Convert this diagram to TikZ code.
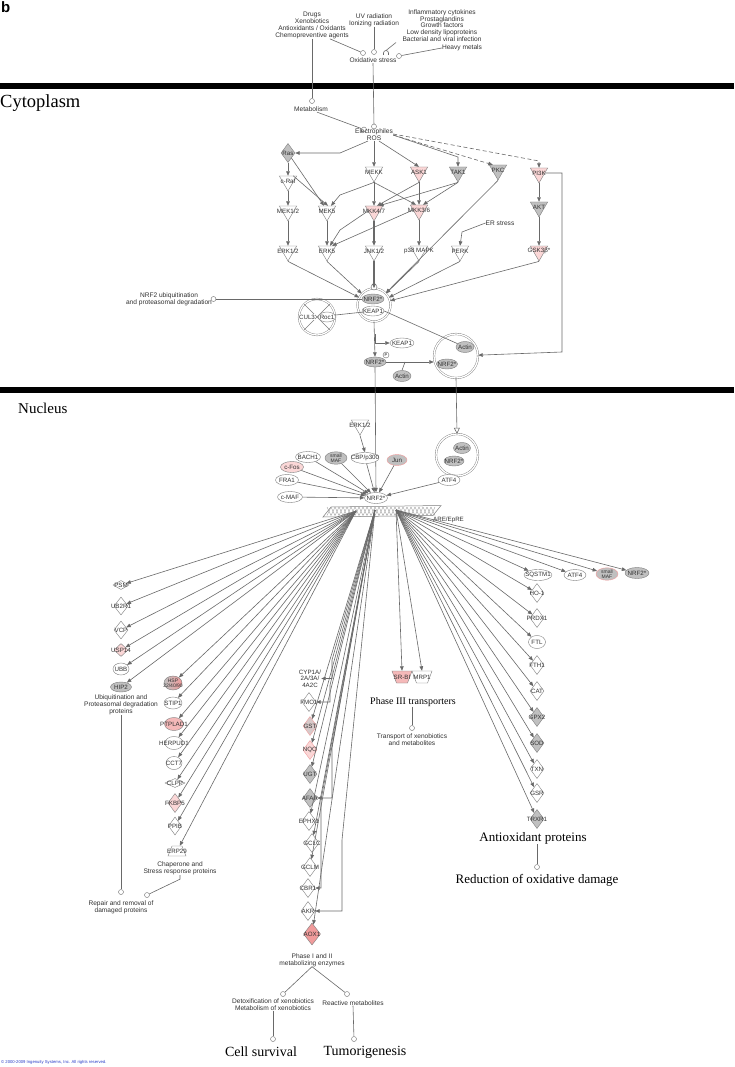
\documentclass[tikz,border=0pt]{standalone}
\usepackage{fontspec}
\setmainfont{Liberation Serif}
\newfontfamily\arial{Liberation Sans}
\usetikzlibrary{shapes.geometric,arrows.meta,calc}
\definecolor{lnc}{RGB}{105,105,105}
\definecolor{olc}{RGB}{125,125,125}
\definecolor{grc}{RGB}{192,192,192}
\definecolor{pkc}{RGB}{251,215,215}
\definecolor{pkb}{RGB}{245,185,185}
\definecolor{pkd}{RGB}{240,155,155}
\definecolor{txc}{RGB}{50,50,50}
\definecolor{cpy}{RGB}{40,60,200}
\begin{document}
\begin{tikzpicture}[x=1pt,y=-1pt,
  lbl/.style={font=\arial\fontsize{6.2}{6.6}\selectfont,text=txc,inner sep=0,align=center},
  lbs/.style={font=\arial\fontsize{5}{5.2}\selectfont,text=txc,inner sep=0,align=center},
  dl/.style={font=\arial\fontsize{6.6}{6.8}\selectfont,text=txc,inner sep=0,align=center},
  L/.style={label={[lbl]center:#1}},
  L2/.style={label={[lbs]center:#1}},
  E/.style={ellipse,draw=olc,fill=white,minimum width=#1,minimum height=11pt,inner sep=0},
  E/.default=20pt,
  K/.style={regular polygon,regular polygon sides=3,shape border rotate=180,draw=olc,fill=white,minimum size=20pt,inner sep=0},
  D/.style={diamond,draw=olc,fill=white,minimum width=14pt,minimum height=19pt,inner sep=0},
  TR/.style={trapezium,trapezium stretches=true,trapezium left angle=68,trapezium right angle=68,draw=olc,fill=white,minimum width=18pt,minimum height=10pt,inner sep=1pt},
  OC/.style={circle,draw=lnc,fill=white,minimum size=5pt,inner sep=0},
  CX/.style={circle,draw=olc,double=white,double distance=1.3pt,fill=white,inner sep=0,minimum size=#1},
  wire/.style={draw=lnc,line width=0.6pt},
  arr/.style={wire,-{Triangle[length=4.5pt,width=3.6pt]}},
  dsh/.style={arr,dash pattern=on 4pt off 2.5pt},
]
\useasboundingbox (0,0) rectangle (734,1067);
\fill[white] (0,0) rectangle (734,1067);
\node[font=\arial\bfseries\fontsize{15}{15}\selectfont,anchor=north west,inner sep=0] (blab) at (1,1) {b};
\fill[black] (0,83) rectangle (734,89);
\fill[black] (0,387) rectangle (734,393);
\node[anchor=west,inner sep=0,font=\fontsize{18.5}{18.5}\selectfont] (cyto) at (0,103) {Cytoplasm};
\node[anchor=west,inner sep=0,font=\fontsize{15}{15}\selectfont] (nucl) at (18,408) {Nucleus};

% ---------- sources ----------
\node[dl] (src1) at (312,25.5) {Drugs\\Xenobiotics\\Antioxidants / Oxidants\\Chemopreventive agents};
\node[dl] (src2) at (374,20) {UV radiation\\Ionizing radiation};
\node[dl] (src3) at (442,25.5) {Inflammatory cytokines\\Prostaglandins\\Growth factors\\Low density lipoproteins\\Bacterial and viral infection};
\node[dl] (src4) at (462,48) {Heavy metals};
\node[OC] (o1) at (363,53) {};
\node[OC] (o2) at (374,52) {};
\coordinate (o3) at (386,50.5);
\draw[wire] (383.5,55) -- (383.5,53) arc[start angle=180,end angle=0,radius=2.5pt] -- (388.5,55);
\node[OC] (o4) at (399,56) {};
\node[dl] (oxs) at (373,60.5) {Oxidative stress};
\draw[wire] ([xshift=-19pt]src1.south east) -- (o1);
\draw[wire] (src2.south) -- (o2);
\coordinate (s3) at (396,42.5);
\draw[wire] (s3) -- (o3);
\draw[wire] (src4.west) -- (o4);

\node[OC] (metc) at (312,101) {};
\node[dl] (met) at (311,109.5) {Metabolism};
\draw[wire] (src1.south) -- (metc);
\node[OC] (r1) at (364,129.5) {};
\node[OC] (r2) at (374,126.5) {};
\node[dl] (ros) at (374,135) {Electrophiles\\ROS};
\draw[wire] (oxs.south) -- (r2);
\draw[wire] ([xshift=6pt]met.south) -- (r1);

% ---------- cytoplasm kinases ----------
\node[D,fill=grc,L=Ras] (ras) at (288,153) {};
\node[K,L=c-Raf] (craf) at (288,181) {};
\node[K,L=MEKK] (mekk) at (374,172) {};
\node[K,fill=pkc,L=ASK1] (ask1) at (419,172) {};
\node[K,fill=grc,L=TAK1] (tak1) at (458,172) {};
\node[K,fill=grc,L=PKC] (pkcn) at (498,170) {};
\node[K,fill=pkc,L=PI3K] (pi3k) at (539,173) {};
\node[K,L=MEK1/2] (mek12) at (288,211) {};
\node[K,L=MEK5] (mek5) at (327,211) {};
\node[K,fill=pkc,L=MKK4/7] (mkk47) at (374,211) {};
\node[K,fill=pkc,L=MKK3/6] (mkk36) at (419,210) {};
\node[K,fill=grc,L=AKT] (akt) at (539,207) {};
\node[K,L=ERK1/2] (erk12) at (288,251) {};
\node[K,L=ERK5] (erk5) at (327,251) {};
\node[K,L=JNK1/2] (jnk) at (374,251) {};
\node[K,L=p38 MAPK] (p38) at (419,251) {};
\node[K,L=PERK] (perk) at (460,251) {};
\node[K,fill=pkc,L=GSK3β*] (gsk) at (539,251) {};
\node[dl] (ers) at (500,223) {ER stress};

\draw[arr] ([xshift=-6pt]ros.south) -- (340,153) -- (ras.east);
\draw[arr] (ros.south) -- (mekk.north);
\draw[arr] ([xshift=5pt]ros.south) -- (ask1.north);
\draw[arr] (ros.east) -- (458,157) -- (tak1.north);
\draw[dsh] (ros.east) -- (pkcn.north west);
\draw[dsh] ([yshift=1pt]ros.east) -- (539,161) -- (pi3k.north);

\draw[arr] (ras.south) -- (craf.north);
\draw[arr] (ras) -- ([xshift=-3pt]mek5.north);
\draw[arr] (craf.north east) -- ([xshift=1pt]mek5.north);
\draw[arr] (craf.south) -- (mek12.north);
\draw[arr] (mekk.south) -- (340,195) -- ([xshift=4pt]mek5.north);
\draw[arr] (mekk.south) -- (mkk47.north);
\draw[arr] (mekk.south) -- ([xshift=-3pt]mkk36.north);
\draw[arr] (ask1.south) -- ([xshift=3pt]mkk47.north);
\draw[arr] (ask1.south) -- (mkk36.north);
\draw[arr] (tak1.south) -- ([xshift=5pt]mkk47.north);
\draw[arr] (tak1.south) -- ([xshift=4pt]mkk36.north);
\draw[arr] (pi3k.south) -- (akt.north);
\draw[arr] (akt.south) -- (gsk.north);
\draw[arr] (mek12.south) -- (erk12.north);
\draw[arr] (mek5.south) -- (erk5.north);
\draw[arr,line width=1.1pt] (mkk47.south) -- (jnk.north);
\draw[arr] (mkk36.south) -- (p38.north);
\draw[arr] (mkk47.west) -- (340,230) -- ([xshift=3pt]erk5.north);
\draw[arr] (mkk36.west) -- (erk5.north east);
\draw[arr] (ers.west) -- (462,232) -- (perk.north);

% ---------- NRF2 / KEAP1 ----------
\node[CX=33pt] (nk) at (374,305) {};
\node[E=22pt,fill=grc,minimum height=10pt,L=NRF2*] (nrf2a) at (373,299) {};
\node[E=22pt,minimum height=10pt,L=KEAP1] (keap1a) at (373,311) {};
\node[OC,minimum size=6pt] (pa) at (374,287) {};
\foreach \s in {erk12,erk5,p38,perk,gsk} \draw[arr] (\s.south) -- (nk);
\draw[arr,line width=1.1pt] (jnk.south) -- (nk.north);
\draw[arr] (pkcn.south) -- (nk);

\node[CX=36pt] (cul) at (317,317) {};
\draw[olc,line width=0.5pt] (cul.north west) -- (cul.south east) (cul.south west) -- (cul.north east);
\node[lbl,fill=white,inner sep=0.4pt] (cul3) at (307,317) {CUL3};
\node[E=17pt,minimum height=10pt,L=Roc1] (roc1) at (327,317) {};
\draw[wire] (cul) -- (keap1a);

\node[dl] (ubq) at (169,299.5) {NRF2 ubiquitination\\and proteasomal degradation};
\node[OC] (ubc) at (213.5,299) {};
\draw[wire] (ubc) -- (nrf2a.west);

\node[E=22pt,fill=grc,minimum height=10pt,L=NRF2*] (nrf2c) at (375,362) {};
\node[OC,minimum size=6pt,label={[font=\arial\fontsize{4}{4}\selectfont]center:P}] (pc) at (386,355) {};
\node[E=24pt,minimum height=10pt,L=KEAP1] (keap1b) at (402,343) {};
\node[E=18pt,fill=grc,L=Actin] (actc) at (402,376) {};
\node[CX=44pt] (cx2) at (456,356) {};
\node[E=18pt,fill=grc,L=Actin] (act2) at (465,347) {};
\node[E=21pt,fill=grc,minimum height=10pt,L=NRF2*] (n2b) at (447,364) {};
\draw[arr] (nk.south) -- (nrf2c.north);
\coordinate (kb) at (375.3,334);
\draw[arr] (kb) |- (keap1b.west);
\coordinate (aj) at (405,362);
\draw[wire] (actc.north) -- (aj);
\draw[arr] (nrf2c.east) -- (nrf2c.east -| cx2.west);
\draw[wire] (keap1a.east) -- (act2);
\draw[arr] (pi3k.east) -| (562,352) -- (cx2);

% ---------- nucleus ----------
\node[E=23pt,L=NRF2*] (nrf2n) at (376,498) {};
\draw[arr] (nrf2c.south) -- (nrf2n.north);
\node[CX=42pt] (cxn) at (457,455) {};
\node[E=17pt,fill=grc,L=Actin] (actn) at (462,448) {};
\node[E=20pt,fill=grc,minimum height=10pt,L=NRF2*] (nrf2x) at (454,461) {};
\draw[wire,-{Triangle[open,length=6pt,width=6pt]}] (cx2.south) -- (cxn.north);

\node[K,L=ERK1/2] (erkn) at (360,425) {};
\node[E=28pt,L=CBP/p300] (cbp) at (365,458) {};
\node[E=25pt,L=BACH1] (bach1) at (308,457) {};
\node[E=22pt,fill=grc,minimum height=12.5pt,L2={small\\MAF}] (smaf) at (336,458) {};
\node[E=20pt,fill=grc,draw=pkd,L=Jun] (jun) at (397,460) {};
\node[E=23pt,fill=pkc,L=c-Fos] (cfos) at (292,467) {};
\node[E=23pt,L=FRA1] (fra1) at (287,480) {};
\node[E=25pt,L=c-MAF] (cmaf) at (290,497) {};
\node[E=22pt,L=ATF4] (atf4n) at (449,480) {};
\draw[arr] (erkn.south) -- (cbp.north);
\foreach \s in {bach1,smaf,cbp,jun,cfos,fra1,cmaf,atf4n} \draw[arr] (\s) -- (nrf2n);

\draw[olc,fill=white,line width=0.5pt] (323,517) -- (331,507) -- (441,505.5) -- (433,515.5) -- cycle;
\foreach \i in {0,...,26} {\draw[olc!80,line width=0.35pt] ({331+4*\i},507) -- ({327+4*\i},515.5) ({327+4*\i},507) -- ({331+4*\i},515.5);}
\node[lbl,anchor=west] (are) at (433,519.5) {ARE/EpRE};
\coordinate (fanL) at (356,511);
\coordinate (fanM) at (375,510);
\coordinate (fanR) at (396,510);

% left: ubiquitination
\node[D,minimum width=16pt,minimum height=9pt,L=PSM] (psm) at (121,585) {};
\node[D,minimum height=18pt,L=UB2R1] (ub2r1) at (121,606) {};
\node[D,minimum height=18pt,L=VCP] (vcp) at (121,630) {};
\node[D,fill=pkc,minimum height=13pt,L=USP14] (usp14) at (121,650) {};
\node[E=16pt,minimum height=12pt,L=UBB] (ubb) at (121,669) {};
\node[E=21pt,fill=grc,minimum height=10pt,L=HIP2] (hip2) at (121,687) {};
\node[dl] (ubt) at (121,705) {Ubiquitination and\\Proteasomal degradation\\proteins};

% left: chaperones
\node[E=18pt,minimum height=14pt,left color=grc,right color=pkd,draw=olc,L2={HSP\\22/40/90}] (hsp) at (173,683) {};
\node[E=18pt,minimum height=12pt,L=STIP1] (stip1) at (173,703) {};
\node[E=19pt,fill=pkb,minimum height=13pt,L=PTPLAD1] (ptp) at (174,724) {};
\node[E=18pt,minimum height=13pt,L=HERPUD1] (herp) at (174,743) {};
\node[E=16pt,minimum height=13pt,L=CCT7] (cct7) at (174,763) {};
\node[D,minimum width=20pt,minimum height=9pt,L=CLPP] (clpp) at (175,783) {};
\node[D,fill=pkc,L=FKBP5] (fkbp5) at (175,803) {};
\node[D,minimum width=13pt,minimum height=18pt,L=PPIB] (ppib) at (175,826) {};
\node[TR,L=ERP29] (erp29) at (177,851) {};
\node[dl] (chap) at (180,868.5) {Chaperone and\\Stress response proteins};
\node[OC] (rc1) at (121,892) {};
\node[OC] (rc2) at (147,895) {};
\node[dl] (repair) at (121,907) {Repair and removal of\\damaged proteins};
\draw[wire] (ubt.south) -- (rc1);
\draw[wire] (chap.south) -- ++(0,4) -- (rc2);

% middle: phase I / II
\node[lbl] (cyp) at (310,678.5) {CYP1A/\\2A/3A/\\4A2C};
\node[D,L=FMO1] (fmo1) at (309,702) {};
\node[D,fill=grc!60!pkc,draw=pkd,L=GST] (gst) at (310,726) {};
\node[D,fill=pkc,draw=pkd,L=NQO] (nqo) at (310,750) {};
\node[D,fill=grc,L=UGT] (ugt) at (310,774) {};
\node[D,fill=grc,L=AFAR] (afar) at (310,798) {};
\node[D,L=EPHX1] (ephx1) at (309,821) {};
\node[D,L=GCLC] (gclc) at (312,843) {};
\node[D,L=GCLM] (gclm) at (310,867) {};
\node[D,L=CBR1] (cbr1) at (308,888) {};
\node[D,L=AKR] (akr) at (308,911) {};
\node[D,fill=pkd,minimum width=17pt,minimum height=22pt,L=AOX1] (aox1) at (312,934) {};
\node[dl] (ph12) at (312,960) {Phase I and II\\metabolizing enzymes};
\node[OC] (dc1) at (283,994) {};
\node[OC] (dc2) at (347,994) {};
\node[dl] (detox) at (273,1004.5) {Detoxification of xenobiotics\\Metabolism of xenobiotics};
\node[dl] (react) at (353,1003) {Reactive metabolites};
\node[OC] (dc3) at (273,1039) {};
\node[OC] (dc4) at (354,1039) {};
\node[font=\fontsize{14}{14}\selectfont,inner sep=0] (csurv) at (261,1052) {Cell survival};
\node[font=\fontsize{14}{14}\selectfont,inner sep=0] (tumor) at (365,1052) {Tumorigenesis};
\draw[wire] (ph12.south) -- (dc1);
\draw[wire] (ph12.south) -- (dc2);
\draw[wire] (detox.south) -- (dc3);
\draw[wire] (react.south) -- (dc4);

% middle: phase III
\node[TR,shape border rotate=180,fill=pkb,minimum width=20pt,minimum height=12pt,L=SR-BI] (srbi) at (402,677) {};
\node[TR,shape border rotate=180,minimum width=20pt,minimum height=12pt,L=MRP1] (mrp1) at (422,677) {};
\node[font=\fontsize{10}{10}\selectfont,inner sep=0] (ph3) at (413,702) {Phase III transporters};
\node[OC] (tc) at (412,728) {};
\node[dl] (trans) at (412,739.5) {Transport of xenobiotics\\and metabolites};
\draw[wire] (ph3.south -| tc) -- (tc);

% right: antioxidants
\node[E=28pt,L=SQSTM1] (sqstm1) at (538,575) {};
\node[E=22pt,L=ATF4] (atf4r) at (575,575) {};
\node[E=22pt,fill=grc,draw=pkd,minimum height=12.5pt,L2={small\\MAF}] (smafr) at (607,574) {};
\node[E=24pt,fill=grc,L=NRF2*] (nrf2r) at (637,573) {};
\node[D,L=HO-1] (ho1) at (537,593) {};
\node[D,L=PRDX1] (prdx1) at (537,618) {};
\node[E=17pt,minimum height=13pt,L=FTL] (ftl) at (537,642) {};
\node[D,L=FTH1] (fth1) at (537,665) {};
\node[D,L=CAT] (cat) at (537,691) {};
\node[D,fill=grc,L=GPX2] (gpx2) at (537,717) {};
\node[D,fill=grc,L=SOD] (sod) at (537,743) {};
\node[D,L=TXN] (txn) at (537,769) {};
\node[D,L=GSR] (gsr) at (537,793) {};
\node[D,fill=grc,L=TRXR1] (trxr1) at (537,819) {};
\node[font=\fontsize{13}{13}\selectfont,inner sep=0] (antiox) at (533,838) {Antioxidant proteins};
\node[OC] (ac) at (537,867) {};
\node[font=\fontsize{13}{13}\selectfont,inner sep=0] (redox) at (537,880) {Reduction of oxidative damage};
\draw[wire] (antiox.south -| ac) -- (ac);

% fans
\foreach \tg in {psm,ub2r1,vcp,usp14,ubb,hip2,hsp,stip1,ptp,herp,cct7,clpp,fkbp5,ppib,erp29}
  \draw[arr] (fanL) -- (\tg);
\foreach \tg in {gst,nqo,ugt,ephx1,gclc,gclm,aox1}
  \draw[arr] (fanM) -- (\tg);
\draw[arr] (fanM) -- (332,660) |- (cyp.east);
\draw[arr] (fanM) -- (330,685) |- (fmo1.east);
\draw[arr] (fanM) -- (332,748) |- (afar.east);
\draw[arr] (fanM) -- (321,800) |- (cbr1.east);
\draw[arr] (fanM) -- (342,840) |- (akr.east);
\draw[arr] (fanR) -- (srbi.north);
\draw[arr] (fanR) -- (mrp1.north);
\foreach \tg in {sqstm1,atf4r,smafr,nrf2r,ho1,prdx1,ftl,fth1,cat,gpx2,sod,txn,gsr,trxr1}
  \draw[arr] (fanR) -- (\tg);

\node[anchor=west,inner sep=0,font=\arial\fontsize{4.2}{4.2}\selectfont,text=cpy] (copy) at (1,1062) {© 2000-2009 Ingenuity Systems, Inc. All rights reserved.};
\end{tikzpicture}
\end{document}
